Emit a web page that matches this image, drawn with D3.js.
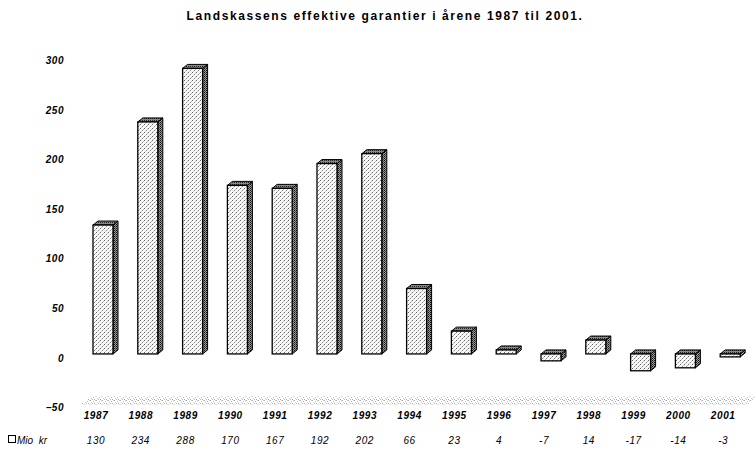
<!DOCTYPE html>
<html><head><meta charset="utf-8">
<script src="https://cdn.jsdelivr.net/npm/d3@7"></script>
<style>
body{margin:0;background:#fff;}
svg{display:block;}
text{font-family:Arial,"Liberation Sans",sans-serif;fill:#000;}
</style></head>
<body><svg id="c" width="756" height="450"></svg>
<script>
const title = "Landskassens effektive garantier i årene 1987 til 2001.";
const years = ["1987","1988","1989","1990","1991","1992","1993","1994","1995","1996","1997","1998","1999","2000","2001"];
const values = [130,234,288,170,167,192,202,66,23,4,-7,14,-17,-14,-3];
const yTicks = [300,250,200,150,100,50,0,-50];
const seriesName = "Mio  kr";

const svg = d3.select("#c");
const defs = svg.append("defs");

// stipple patterns
const pf = defs.append("pattern").attr("id","pFront").attr("patternUnits","userSpaceOnUse").attr("width",4).attr("height",4);
pf.append("rect").attr("width",4).attr("height",4).attr("fill","#f8f8f8");
pf.append("rect").attr("x",0).attr("y",0).attr("width",1).attr("height",1).attr("fill","#666");
pf.append("rect").attr("x",2).attr("y",2).attr("width",1).attr("height",1).attr("fill","#888");
pf.append("rect").attr("x",3).attr("y",1).attr("width",1).attr("height",1).attr("fill","#bbb");
pf.append("rect").attr("x",1).attr("y",3).attr("width",1).attr("height",1).attr("fill","#ccc");

const ps = defs.append("pattern").attr("id","pSide").attr("patternUnits","userSpaceOnUse").attr("width",2).attr("height",2);
ps.append("rect").attr("width",2).attr("height",2).attr("fill","#999");
ps.append("rect").attr("x",0).attr("y",0).attr("width",1).attr("height",1).attr("fill","#111");
ps.append("rect").attr("x",1).attr("y",1).attr("width",1).attr("height",1).attr("fill","#444");

const pt = defs.append("pattern").attr("id","pTop").attr("patternUnits","userSpaceOnUse").attr("width",2).attr("height",2);
pt.append("rect").attr("width",2).attr("height",2).attr("fill","#888");
pt.append("rect").attr("x",0).attr("y",0).attr("width",1).attr("height",1).attr("fill","#222");

const pfl = defs.append("pattern").attr("id","pFloor").attr("patternUnits","userSpaceOnUse").attr("width",6).attr("height",4);
pfl.append("rect").attr("width",6).attr("height",4).attr("fill","#fff");
pfl.append("rect").attr("x",0).attr("y",0).attr("width",1).attr("height",1).attr("fill","#aaa");
pfl.append("rect").attr("x",3).attr("y",1).attr("width",1).attr("height",1).attr("fill","#bbb");
pfl.append("rect").attr("x",1).attr("y",2).attr("width",1).attr("height",1).attr("fill","#ccc");
pfl.append("rect").attr("x",4).attr("y",3).attr("width",1).attr("height",1).attr("fill","#aaa");
pfl.append("rect").attr("x",5).attr("y",0).attr("width",1).attr("height",1).attr("fill","#ccc");
pfl.append("rect").attr("x",2).attr("y",3).attr("width",1).attr("height",1).attr("fill","#bbb");

const x = d3.scaleBand().domain(years).range([73.6, 745.6]).padding(0);
const y = d3.scaleLinear().domain([-50, 300]).range([403.5, 56.5]);

const DX = 5, DY = -4, BW = 20, OFF = 7;

// title
svg.append("text").attr("x",385).attr("y",20).attr("text-anchor","middle")
  .attr("font-size",12).attr("font-weight","bold").attr("letter-spacing","1.6px").text(title);

// y axis labels
const yAxis = d3.axisLeft(y).tickValues(yTicks).tickSize(0).tickPadding(0);
const ga = svg.append("g").attr("transform","translate(64,4)").call(yAxis);
ga.select(".domain").remove();
ga.selectAll("text").attr("font-size",10).attr("font-style","italic").attr("font-weight","bold")
  .attr("font-family","Arial, 'Liberation Sans', sans-serif").attr("fill","#000").attr("letter-spacing","0.5px");

// floor
const fy = y(-50);
svg.append("polygon")
  .attr("points",[[80,fy+1],[748,fy+1],[756,fy-7],[92,fy-7]].map(p=>p.join(",")).join(" "))
  .attr("fill","url(#pFloor)");

// bars
const g = svg.append("g");
years.forEach((yr,i)=>{
  const v = values[i];
  const x0 = x(yr) + x.bandwidth()/2 + OFF - BW/2;
  const x1 = x0 + BW;
  const yTop = y(Math.max(v,0)), yBot = y(Math.min(v,0));
  g.append("polygon").attr("points",[[x1,yTop],[x1+DX,yTop+DY],[x1+DX,yBot+DY],[x1,yBot]].map(p=>p.join(",")).join(" "))
    .attr("fill","url(#pSide)").attr("stroke","#000").attr("stroke-width",1);
  g.append("polygon").attr("points",[[x0,yTop],[x0+DX,yTop+DY],[x1+DX,yTop+DY],[x1,yTop]].map(p=>p.join(",")).join(" "))
    .attr("fill","url(#pTop)").attr("stroke","#000").attr("stroke-width",1);
  g.append("rect").attr("x",x0).attr("y",yTop).attr("width",BW).attr("height",Math.max(yBot-yTop,1))
    .attr("fill","url(#pFront)").attr("stroke","#000").attr("stroke-width",1.3);
});

// data table
const xAxis = d3.axisBottom(x).tickSize(0).tickPadding(0);
const gx = svg.append("g").attr("transform","translate(0,412)").call(xAxis);
gx.select(".domain").remove();
gx.selectAll("text").attr("font-size",10).attr("font-style","italic").attr("font-weight","bold")
  .attr("font-family","Arial, 'Liberation Sans', sans-serif").attr("fill","#000").attr("letter-spacing","0.6px");

svg.append("g").selectAll("text").data(values).join("text")
  .attr("x",(d,i)=>x(years[i])+x.bandwidth()/2).attr("y",444).attr("text-anchor","middle")
  .attr("font-size",10).attr("font-style","italic").attr("letter-spacing","0.6px").text(d=>d);

svg.append("rect").attr("x",8.5).attr("y",435.5).attr("width",7).attr("height",7)
  .attr("fill","#fff").attr("stroke","#000").attr("stroke-width",1);
svg.append("text").attr("x",17).attr("y",444).attr("font-size",10).attr("font-style","italic")
  .attr("xml:space","preserve").style("white-space","pre").text(seriesName);
</script></body></html>
